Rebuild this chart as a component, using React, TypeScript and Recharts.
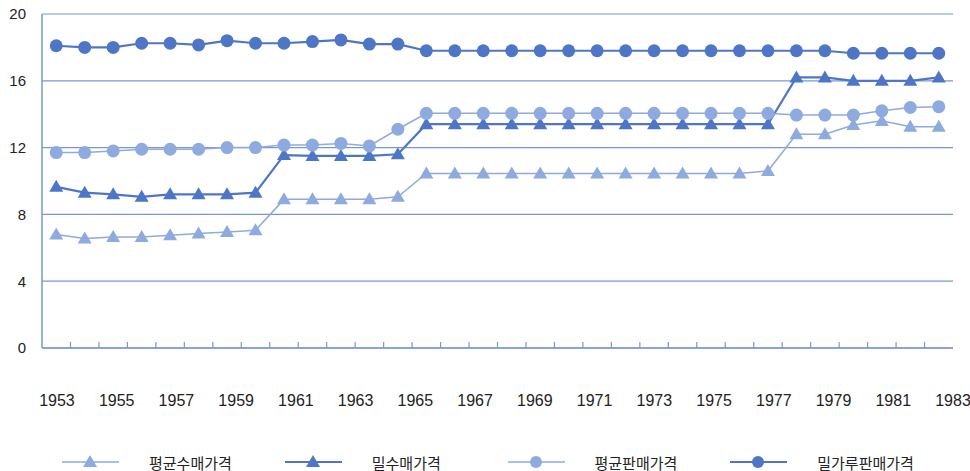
import React from 'react';
import { LineChart, Line, XAxis, YAxis, CartesianGrid, Legend } from 'recharts';

const years = [
  1953, 1954, 1955, 1956, 1957, 1958, 1959, 1960, 1961, 1962, 1963, 1964, 1965, 1966, 1967, 1968,
  1969, 1970, 1971, 1972, 1973, 1974, 1975, 1976, 1977, 1978, 1979, 1980, 1981, 1982, 1983, 1984,
];

// 평균수매가격
const avgPurchase = [
  6.8, 6.55, 6.65, 6.65, 6.75, 6.85, 6.95, 7.05, 8.9, 8.9, 8.9, 8.9, 9.05, 10.45, 10.45, 10.45,
  10.45, 10.45, 10.45, 10.45, 10.45, 10.45, 10.45, 10.45, 10.45, 10.6, 12.8, 12.8, 13.35, 13.6, 13.25, 13.25,
];
// 밀수매가격
const wheatPurchase = [
  9.65, 9.3, 9.2, 9.05, 9.2, 9.2, 9.2, 9.3, 11.55, 11.5, 11.5, 11.5, 11.6, 13.4, 13.4, 13.4,
  13.4, 13.4, 13.4, 13.4, 13.4, 13.4, 13.4, 13.4, 13.4, 13.4, 16.2, 16.2, 16.0, 16.0, 16.0, 16.2,
];
// 평균판매가격
const avgSale = [
  11.7, 11.7, 11.8, 11.9, 11.9, 11.9, 12.0, 12.0, 12.15, 12.15, 12.25, 12.1, 13.1, 14.05, 14.05, 14.05,
  14.05, 14.05, 14.05, 14.05, 14.05, 14.05, 14.05, 14.05, 14.05, 14.05, 13.95, 13.95, 13.95, 14.2, 14.4, 14.45,
];
// 밀가루판매가격
const flourSale = [
  18.1, 18.0, 18.0, 18.25, 18.25, 18.15, 18.4, 18.25, 18.25, 18.35, 18.45, 18.2, 18.2, 17.8, 17.8, 17.8,
  17.8, 17.8, 17.8, 17.8, 17.8, 17.8, 17.8, 17.8, 17.8, 17.8, 17.8, 17.8, 17.65, 17.65, 17.65, 17.65,
];

const yTicks = [0, 4, 8, 12, 16, 20];
const yearLabels = [1953, 1955, 1957, 1959, 1961, 1963, 1965, 1967, 1969, 1971, 1973, 1975, 1977, 1979, 1981, 1983];

const data = years.map((year, idx) => ({
  idx,
  year,
  avgPurchase: avgPurchase[idx],
  wheatPurchase: wheatPurchase[idx],
  avgSale: avgSale[idx],
  flourSale: flourSale[idx],
}));

// tick marks sit between the points
const boundaryTicks = years.slice(1).map((_, i) => i + 0.5);

const DARK = '#4f76c6';
const LIGHT = '#8eaade';
const GRID = '#7a96d6';
const numFont = "'Liberation Sans Narrow', 'Liberation Sans', Arial, sans-serif";

const triangle = (color: string) => (props: any) => {
  const { cx, cy, key } = props;
  if (cx == null || cy == null) return null;
  return (
    <polygon
      key={key}
      points={`${cx},${cy - 7} ${cx - 7},${cy + 5} ${cx + 7},${cy + 5}`}
      fill={color}
    />
  );
};

const circle = (color: string) => (props: any) => {
  const { cx, cy, key } = props;
  if (cx == null || cy == null) return null;
  return <circle key={key} cx={cx} cy={cy} r={6.5} fill={color} />;
};

const BoundaryTick = (props: any) => {
  const { x, y } = props;
  return <line x1={x} x2={x} y1={y} y2={y - 6} stroke={GRID} strokeWidth={1.2} />;
};

const series = [
  { key: 'avgPurchase', name: '평균수매가격', color: LIGHT, width: 1.5, shape: 'triangle' },
  { key: 'wheatPurchase', name: '밀수매가격', color: DARK, width: 2.2, shape: 'triangle' },
  { key: 'avgSale', name: '평균판매가격', color: LIGHT, width: 1.5, shape: 'circle' },
  { key: 'flourSale', name: '밀가루판매가격', color: DARK, width: 2.2, shape: 'circle' },
];

const LegendContent = () => (
  <div style={{ display: 'flex', paddingLeft: 62, height: 18, alignItems: 'center' }}>
    {series.map((s) => (
      <div key={s.key} style={{ display: 'flex', alignItems: 'center', width: 223 }}>
        <svg width={57} height={16}>
          <line x1={0} x2={57} y1={8} y2={8} stroke={s.color} strokeWidth={s.width} />
          {s.shape === 'triangle' ? (
            <polygon points="28,1 21,13 35,13" fill={s.color} />
          ) : (
            <circle cx={28} cy={8} r={6} fill={s.color} />
          )}
        </svg>
        <span
          style={{
            marginLeft: 30,
            fontFamily: "'Noto Sans CJK KR', sans-serif",
            fontSize: 15,
            color: '#222',
          }}
        >
          {s.name}
        </span>
      </div>
    ))}
  </div>
);

export default function App() {
  return (
    <div style={{ width: 970, height: 471, background: '#fff' }}>
      <style>{'body{margin:0}'}</style>
      <LineChart width={970} height={471} data={data} margin={{ top: 14, right: 17, left: 0, bottom: 0 }}>
        <CartesianGrid vertical={false} stroke={GRID} strokeWidth={1.2} />
        <XAxis
          xAxisId="idx"
          type="number"
          dataKey="idx"
          domain={[-0.5, 31.5]}
          ticks={boundaryTicks}
          interval={0}
          height={10}
          tickSize={0}
          tickMargin={0}
          tickLine={false}
          tick={<BoundaryTick />}
          axisLine={{ stroke: GRID, strokeWidth: 1.5 }}
        />
        <XAxis
          xAxisId="yr"
          type="number"
          dataKey="year"
          domain={[1952.5, 1983]}
          allowDataOverflow
          ticks={yearLabels}
          interval={0}
          height={95}
          tickSize={0}
          tickMargin={37}
          tickLine={false}
          axisLine={false}
          tick={{ fill: '#222', fontSize: 16, fontFamily: numFont }}
        />
        <YAxis
          domain={[0, 20]}
          ticks={yTicks}
          width={42}
          tickSize={0}
          tickMargin={16}
          tickLine={false}
          axisLine={{ stroke: GRID, strokeWidth: 1.5 }}
          tick={{ fill: '#222', fontSize: 15, fontFamily: "'Liberation Sans', Arial, sans-serif" }}
        />
        <YAxis
          yAxisId="right"
          orientation="right"
          width={0}
          domain={[0, 20]}
          tick={false}
          tickLine={false}
          axisLine={{ stroke: '#a9bde6', strokeWidth: 1 }}
        />
        <Legend verticalAlign="bottom" content={<LegendContent />} />
        {series.map((s) => (
          <Line
            key={s.key}
            xAxisId="idx"
            type="linear"
            dataKey={s.key}
            name={s.name}
            stroke={s.color}
            strokeWidth={s.width}
            dot={s.shape === 'triangle' ? triangle(s.color) : circle(s.color)}
            activeDot={false}
            isAnimationActive={false}
          />
        ))}
      </LineChart>
    </div>
  );
}
